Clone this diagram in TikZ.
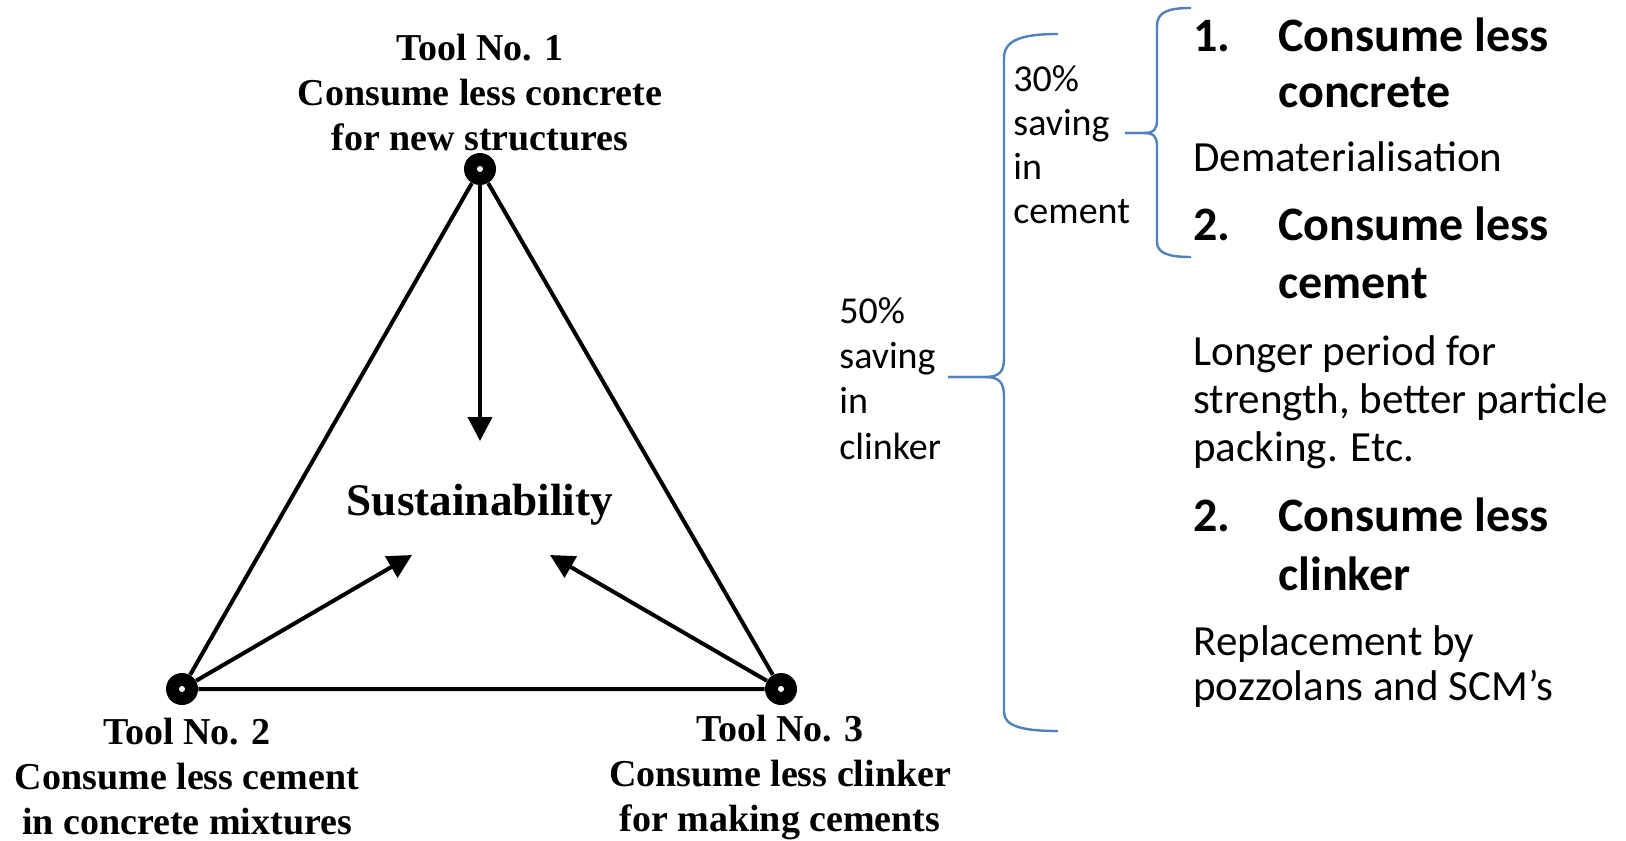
\documentclass[tikz,border=0pt]{standalone}
\usepackage{fontspec}
\setmainfont{Liberation Serif}
\newfontfamily\calibri{Carlito}
\usetikzlibrary{arrows.meta}
\definecolor{braceblue}{RGB}{79,129,189}
\begin{document}
\begin{tikzpicture}[x=0.5pt,y=-0.5pt,
  vtx/.style={circle,fill=black,minimum size=16pt,inner sep=0pt,
    path picture={\fill[white] (path picture bounding box.center) circle (1.5pt);}},
  edge/.style={line width=2pt},
  arr/.style={line width=2pt,-{Triangle[length=12pt,width=12pt]}},
  toolbox/.style={font=\fontsize{19}{22.5}\selectfont\bfseries,align=center,inner sep=0pt},
  brace/.style={draw=braceblue,line width=1.2pt},
  pct/.style={font=\calibri\fontsize{19}{23}\selectfont,anchor=base west,inner sep=0pt},
  head/.style={font=\calibri\bfseries\fontsize{24}{27}\selectfont,anchor=base west,inner sep=0pt},
  body/.style={font=\calibri\fontsize{21.5}{22.5}\selectfont,anchor=base west,inner sep=0pt}
]
\useasboundingbox (0,0) rectangle (1626,840);

% triangle
\node[vtx] (v1) at (480,169) {};
\node[vtx] (v2) at (182,689) {};
\node[vtx] (v3) at (781,689) {};
\draw[edge] (v1) -- (v2) -- (v3) -- (v1);

\coordinate (a1) at (480,441);
\coordinate (a2) at (412,555);
\coordinate (a3) at (550,555);
\draw[arr] (v1) -- (a1);
\draw[arr] (v2) -- (a2);
\draw[arr] (v3) -- (a3);

\node[font=\fontsize{22.6}{26}\selectfont\bfseries] (sus) at (480,505) {Sustainability};
\node[toolbox] (t1) at (480,93) {Tool No. 1\\Consume less concrete\\for new structures};
\node[toolbox] (t2) at (187,777) {Tool No. 2\\Consume less cement\\in concrete mixtures};
\node[toolbox] (t3) at (780,777) {Tool No. 3\\Consume less clinker\\for making cements};

% braces
\coordinate (bigtip) at (948,377);
\draw[brace] (1058,34) .. controls (1022,34) and (1004,40) .. (1004,58) -- (1004,358)
  .. controls (1004,371) and (1000,377) .. (985,377) -- (bigtip);
\draw[brace] (bigtip) -- (985,377) .. controls (1000,377) and (1004,383) .. (1004,397)
  -- (1004,712) .. controls (1004,726) and (1022,731) .. (1058,731);

\coordinate (smalltip) at (1125,133);
\draw[brace] (1191,8) .. controls (1168,8) and (1157,12) .. (1157,26) -- (1157,120)
  .. controls (1157,129) and (1154,133) .. (1144,133) -- (smalltip);
\draw[brace] (smalltip) -- (1144,133) .. controls (1154,133) and (1157,137) .. (1157,146)
  -- (1157,242) .. controls (1157,253) and (1168,257) .. (1191,257);

% percentage labels
\node[pct] (p50a) at (839,323) {50\%};
\node[pct] (p50b) at (839,368) {saving};
\node[pct] (p50c) at (839,413) {in};
\node[pct] (p50d) at (839,459) {clinker};
\node[pct] (p30a) at (1013,91) {30\%};
\node[pct] (p30b) at (1013,135) {saving};
\node[pct] (p30c) at (1013,179) {in};
\node[pct] (p30d) at (1013,223) {cement};

% right list
\node[head] (n1) at (1193,52) {1.};
\node[head] (h1a) at (1278,52) {Consume less};
\node[head] (h1b) at (1278,107) {concrete};
\node[body] (b1) at (1193,171) {Dematerialisation};
\node[head] (n2) at (1193,240) {2.};
\node[head] (h2a) at (1278,240) {Consume less};
\node[head] (h2b) at (1278,298) {cement};
\node[body] (b2a) at (1193,365) {Longer period for};
\node[body] (b2b) at (1193,413) {strength, better particle};
\node[body] (b2c) at (1193,461) {packing. Etc.};
\node[head] (n3) at (1193,531) {2.};
\node[head] (h3a) at (1278,531) {Consume less};
\node[head] (h3b) at (1278,590) {clinker};
\node[body] (b3a) at (1193,655) {Replacement by};
\node[body] (b3b) at (1193,700) {pozzolans and SCM’s};
\end{tikzpicture}
\end{document}
